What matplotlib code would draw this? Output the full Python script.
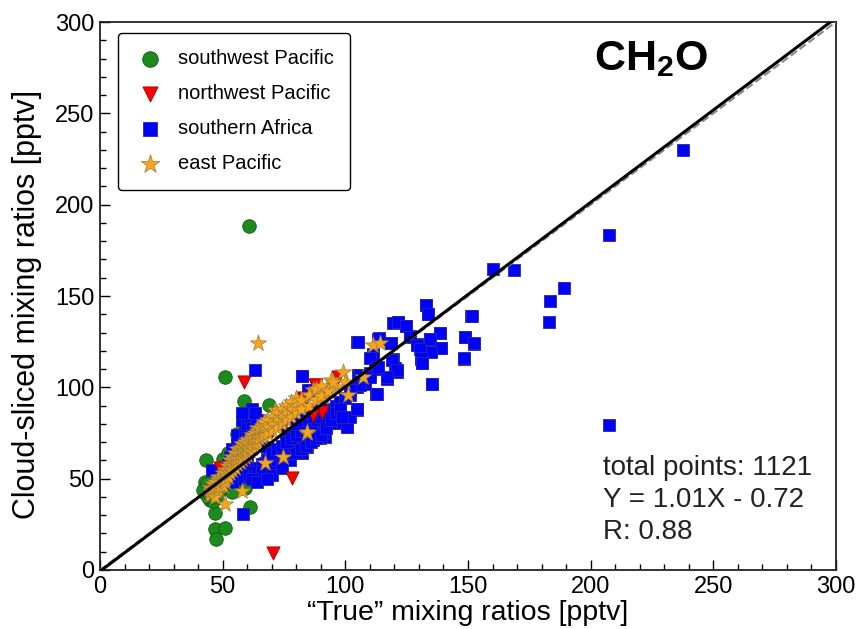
import matplotlib
matplotlib.use("Agg")
import matplotlib.pyplot as plt
from matplotlib.ticker import MultipleLocator
import numpy as np

plt.rcParams["font.family"] = ["Liberation Sans", "DejaVu Sans"]
plt.rcParams["mathtext.fontset"] = "custom"
plt.rcParams["mathtext.rm"] = "Liberation Sans"
plt.rcParams["mathtext.bf"] = "Liberation Sans:bold"

# southwest Pacific
sw_x = [60.7, 50.9, 58.7, 68.9, 55.7, 43.2, 50.3, 52.3, 42.8, 42.8, 44.8, 46.9, 46.9, 46.9,
        50.9, 47.1, 61.1, 58.7, 53.9, 57.7, 49.6, 52.3, 44.0, 45.0, 46.0, 47.0, 48.0, 45.0,
        43.0, 46.0, 49.0, 44.0, 47.0, 50.0, 48.0, 51.0, 53.0, 42.0, 44.5, 47.3, 46.0, 59.1,
        50.9, 45.5, 43.5]
sw_y = [188.3, 105.8, 92.5, 90.3, 74.3, 60.2, 60.6, 63.9, 48.3, 42.0, 38.3, 39.2, 31.0, 22.4,
        23.0, 16.8, 34.7, 45.0, 42.9, 49.3, 51.1, 54.7, 44.0, 46.0, 42.0, 45.0, 47.0, 41.0,
        45.0, 48.0, 44.0, 40.0, 41.0, 46.0, 43.0, 48.0, 50.0, 44.0, 42.0, 39.5, 38.0, 44.9,
        48.3, 40.0, 47.0]

# northwest Pacific
nw_x = [70.5, 78.1, 58.7, 97.1, 87.6, 82.9, 90.3, 82.2, 86.9, 65.9, 48.9, 88.0, 83.5,
        80.0, 92.0, 75.0, 70.0, 60.0, 52.0]
nw_y = [9.3, 50.2, 103.1, 105.5, 101.3, 94.0, 86.6, 93.0, 84.8, 76.6, 55.7, 101.3, 93.0,
        88.0, 94.0, 80.0, 76.0, 62.0, 56.0]

# southern Africa
sa_x = [237.6, 207.5, 160.3, 168.6, 189.2, 183.4, 183.0, 207.3, 132.7, 133.9, 151.3, 121.6,
        124.7, 138.7, 134.6, 148.7, 152.5, 126.3, 129.3, 131.1, 134.9, 139.1, 148.5, 130.9,
        131.4, 135.3, 118.6, 113.8, 105.0, 111.4, 119.3, 120.2, 121.2, 117.1, 113.2, 109.8,
        105.3, 82.2, 104.6, 112.7, 104.6, 100.5, 99.6, 85.6, 97.8, 95.0, 90.9, 89.6, 82.7,
        77.4, 63.2, 82.2, 84.9, 104.9, 113.4, 118.5, 111.4, 119.5, 116.8, 112.7, 104.6, 100.5,
        91.7, 83.5, 79.5, 76.7, 71.3, 68.6, 64.5, 63.2, 59.8, 56.4, 55.0, 45.5, 58.4, 93.0,
        95.8, 98.5, 80.8, 62.5, 65.2, 57.8, 62.5, 67.9, 70.6, 73.3, 108.7, 110.0, 97.8, 101.9,
        96.4, 93.7, 91.0, 86.9, 84.2, 81.5, 78.8, 76.1, 59.1, 63.9, 55.7, 54.3, 81.5, 78.8,
        74.7, 70.6, 67.2, 63.9, 61.1, 82.2, 77.4, 61.8, 65.9, 63.2, 52.0, 53.0, 54.0, 56.0,
        58.0, 59.0, 60.0, 61.0, 62.0, 57.0, 60.0, 62.0, 64.0, 63.0, 58.0, 55.0, 60.0, 62.0,
        64.0, 66.0, 68.0, 70.0, 72.0, 74.0, 76.0, 78.0, 80.0, 82.0, 84.0, 86.0, 88.0, 90.0,
        70.0, 72.0, 74.0, 76.0, 78.0, 80.0, 82.0, 84.0, 86.0, 88.0, 90.0, 92.0, 94.0, 96.0,
        98.0, 100.0, 92.0, 94.0, 96.0, 98.0, 90.0, 88.0, 86.0, 84.0, 82.0, 80.0, 102.0, 104.0,
        106.0, 108.0, 110.0, 112.0, 66.0, 70.0, 74.0, 60.0, 58.0, 62.0, 56.0, 54.0, 64.0,
        68.0, 106.0, 101.9, 105.0, 113.7, 118.6, 121.6, 124.7, 132.8, 133.5, 151.5, 148.7,
        152.4, 148.3, 138.5, 134.5, 139.0, 134.9, 126.3, 129.3, 130.4, 130.7, 131.1, 135.2,
        118.9, 120.9, 116.8, 112.8, 110.0, 113.4, 106.0, 104.9, 98.5]
sa_y = [229.9, 183.2, 164.9, 164.4, 154.5, 147.4, 135.6, 79.4, 145.0, 140.3, 139.2, 135.6,
        133.5, 129.7, 126.4, 127.4, 123.9, 128.1, 123.5, 121.7, 119.7, 121.5, 115.7, 115.3,
        113.1, 101.6, 124.4, 126.3, 124.8, 117.9, 115.3, 110.7, 108.5, 104.9, 110.7, 105.6,
        106.7, 106.2, 100.3, 96.2, 87.7, 78.4, 82.1, 98.5, 87.6, 83.7, 76.6, 72.2, 69.5,
        69.5, 109.5, 106.2, 98.5, 124.8, 126.4, 124.1, 118.1, 135.4, 104.5, 96.2, 88.0, 78.4,
        73.0, 67.5, 67.5, 67.5, 62.0, 60.2, 54.7, 83.9, 76.6, 69.3, 63.9, 54.7, 30.7, 87.6,
        80.3, 83.9, 73.0, 83.9, 80.3, 73.5, 71.2, 67.5, 63.9, 65.7, 105.8, 115.9, 89.4, 83.9,
        87.6, 80.3, 74.8, 71.2, 67.5, 71.2, 65.7, 74.8, 77.6, 81.2, 68.4, 63.9, 73.0, 68.4,
        63.9, 62.0, 58.4, 54.7, 51.1, 63.9, 60.2, 74.8, 78.4, 79.3, 58.0, 62.0, 66.0, 74.0,
        82.0, 74.0, 80.0, 84.0, 88.0, 66.0, 72.0, 78.0, 82.0, 86.0, 86.0, 60.0, 56.0, 54.0,
        56.0, 58.0, 60.0, 58.0, 60.0, 62.0, 64.0, 66.0, 64.0, 66.0, 68.0, 70.0, 72.0, 74.0,
        64.0, 66.0, 68.0, 70.0, 72.0, 74.0, 76.0, 78.0, 80.0, 82.0, 84.0, 86.0, 88.0, 90.0,
        92.0, 94.0, 78.0, 82.0, 86.0, 88.0, 90.0, 88.0, 86.0, 84.0, 82.0, 80.0, 96.0, 100.0,
        104.0, 102.0, 108.0, 110.0, 54.0, 52.0, 56.0, 60.0, 52.0, 50.0, 50.0, 48.0, 48.0,
        50.0, 101.3, 98.5, 125.0, 126.8, 124.4, 135.9, 133.5, 145.0, 140.1, 139.0, 127.7,
        124.1, 115.9, 129.6, 126.3, 121.7, 119.5, 127.7, 123.2, 120.8, 115.9, 113.1, 101.8,
        114.9, 109.5, 105.5, 96.3, 105.5, 111.3, 106.7, 88.1, 83.9]

# east Pacific
ep_x = [64.3, 50.9, 57.7, 71.3, 99.2, 111.4, 114.1, 84.2, 74.7, 67.2, 107.3, 101.2, 92.4,
        86.9, 91.0, 81.5, 78.8, 84.2, 100.0, 96.0, 94.0, 89.0,
        45, 45, 45, 46, 46, 46, 47, 47, 47, 47, 48, 48, 48, 48, 49, 49, 49,
        50, 50, 50, 50, 51, 51, 51, 51, 52, 52, 52, 53, 53, 53, 53, 54, 54, 54, 54,
        55, 55, 55, 55, 56, 56, 56, 56, 57, 57, 57, 57, 58, 58, 58, 58, 59, 59, 59, 59,
        60, 60, 60, 60, 61, 61, 61, 62, 62, 62, 62, 63, 63, 63, 64, 64, 64, 64,
        65, 65, 65, 66, 66, 66, 67, 67, 67, 68, 68, 68, 70, 70, 70, 72, 72, 72,
        74, 74, 74, 76, 76, 76, 78, 78, 78, 80, 80, 80, 82, 82, 85, 85, 88, 88, 90, 90,
        93, 95]
ep_y = [124.1, 36.1, 43.4, 87.6, 108.5, 123.2, 124.1, 74.8, 62.0, 58.4, 105.8, 95.8, 100.3,
        98.5, 94.9, 91.2, 87.6, 75.7, 103.0, 100.0, 104.0, 97.0,
        41, 43, 45, 42, 44, 47, 43, 45, 48, 40, 44, 46, 49, 51, 46, 48, 50,
        46, 49, 51, 53, 48, 50, 53, 55, 51, 54, 57, 53, 56, 58, 60, 55, 57, 60, 62,
        56, 59, 62, 64, 58, 61, 63, 66, 59, 62, 65, 67, 61, 64, 67, 69, 62, 65, 68, 70,
        63, 66, 69, 71, 65, 68, 71, 67, 70, 72, 74, 69, 72, 75, 70, 73, 76, 78,
        72, 75, 78, 73, 76, 79, 74, 78, 81, 75, 79, 82, 76, 80, 84, 78, 82, 86,
        80, 84, 88, 82, 86, 90, 84, 88, 92, 86, 90, 94, 88, 93, 90, 96, 93, 99, 95, 101,
        98, 103]

# regression statistics and the fitted line
n_total = 1121
slope = 1.01
intercept = -0.72
r_value = 0.88

fig = plt.figure(figsize=(8.59, 6.29), dpi=100)
ax = fig.add_axes([0.1164, 0.0938, 0.8568, 0.8712])

ax.scatter(sw_x, sw_y, s=95, marker="o", color="#1c8a1c", edgecolor="#0f5a0f",
           linewidth=0.6, label="southwest Pacific", zorder=2)
ax.scatter(nw_x, nw_y, s=90, marker="v", color="#ff0000", edgecolor="#9a0000",
           linewidth=0.6, label="northwest Pacific", zorder=4)
ax.scatter(sa_x, sa_y, s=80, marker="s", color="#0000ff", edgecolor="#2a2a9a",
           linewidth=0.6, label="southern Africa", zorder=3)
ax.scatter(ep_x, ep_y, s=150, marker="*", color="#f7a61c", edgecolor="#9a7a3a",
           linewidth=0.5, label="east Pacific", zorder=5)

xx = np.array([0, 300])
ax.plot(xx, xx, color="#888888", linestyle="--", linewidth=1.5, zorder=6)
ax.plot(xx, slope * xx + intercept, color="black", linewidth=2.2, zorder=7)

ax.set_xlim(0, 300)
ax.set_ylim(0, 300)
ax.xaxis.set_major_locator(MultipleLocator(50))
ax.xaxis.set_minor_locator(MultipleLocator(10))
ax.yaxis.set_major_locator(MultipleLocator(50))
ax.yaxis.set_minor_locator(MultipleLocator(10))
ax.tick_params(which="both", direction="in", labelsize=17, pad=4, width=1)
ax.tick_params(which="major", length=7)
ax.tick_params(which="minor", length=4)
for sp in ax.spines.values():
    sp.set_linewidth(1.3)
    sp.set_color("#222222")

ax.set_xlabel("\u201cTrue\u201d mixing ratios [pptv]", fontsize=20.5, labelpad=2)
ax.set_ylabel("Cloud-sliced mixing ratios [pptv]", fontsize=22)
ax.yaxis.set_label_coords(-0.079, 0.484)

leg = ax.legend(loc="upper left", bbox_to_anchor=(0.0245, 0.98), borderaxespad=0,
                fontsize=14.5, frameon=True, fancybox=True, edgecolor="black",
                framealpha=1, labelspacing=0.8, handletextpad=0.6,
                borderpad=0.8, handlelength=1.6, scatterpoints=1, markerscale=1.15)
leg.get_frame().set_linewidth(1.0)
leg.set_zorder(10)

ax.text(0.749, 0.932, r"$\mathbf{CH_2O}$", transform=ax.transAxes,
        fontsize=31, ha="center", va="center")

stats = f"total points: {n_total}\nY = {slope:.2f}X - {abs(intercept):.2f}\nR: {r_value:.2f}"
ax.text(0.683, 0.128, stats, transform=ax.transAxes, fontsize=20,
        ha="left", va="center", linespacing=1.3, color="#222222")

fig.savefig("out.png", dpi=100)
